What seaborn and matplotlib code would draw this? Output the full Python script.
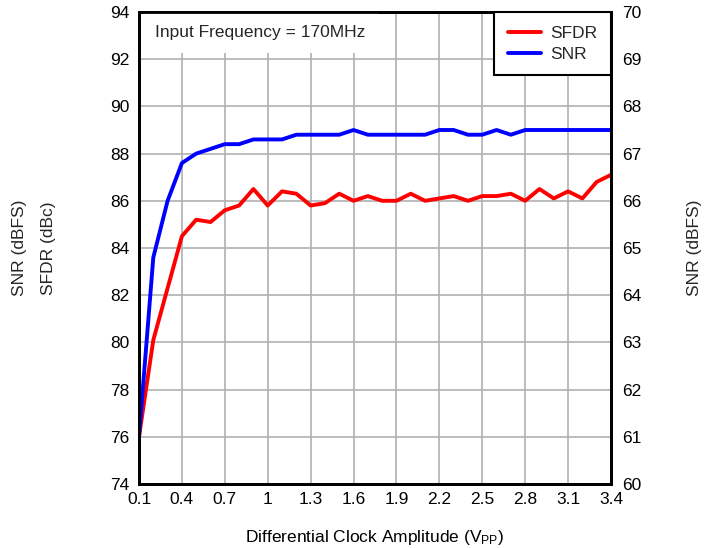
import matplotlib
matplotlib.use("Agg")
import matplotlib.pyplot as plt
import seaborn as sns
import numpy as np
import pandas as pd

# ---- data ----
amplitude = [0.1, 0.2, 0.3, 0.4, 0.5, 0.6, 0.7, 0.8, 0.9, 1.0,
             1.1, 1.2, 1.3, 1.4, 1.5, 1.6, 1.7, 1.8, 1.9, 2.0,
             2.1, 2.2, 2.3, 2.4, 2.5, 2.6, 2.7, 2.8, 2.9, 3.0,
             3.1, 3.2, 3.3, 3.4]
sfdr_dbc = [76.0, 80.1, 82.3, 84.5, 85.2, 85.1, 85.6, 85.8, 86.5, 85.8,
            86.4, 86.3, 85.8, 85.9, 86.3, 86.0, 86.2, 86.0, 86.0, 86.3,
            86.0, 86.1, 86.2, 86.0, 86.2, 86.2, 86.3, 86.0, 86.5, 86.1,
            86.4, 86.1, 86.8, 87.1]
snr_dbfs = [61.0, 64.8, 66.0, 66.8, 67.0, 67.1, 67.2, 67.2, 67.3, 67.3,
            67.3, 67.4, 67.4, 67.4, 67.4, 67.5, 67.4, 67.4, 67.4, 67.4,
            67.4, 67.5, 67.5, 67.4, 67.4, 67.5, 67.4, 67.5, 67.5, 67.5,
            67.5, 67.5, 67.5, 67.5]
x_ticks = [0.1, 0.4, 0.7, 1.0, 1.3, 1.6, 1.9, 2.2, 2.5, 2.8, 3.1, 3.4]
x_tick_labels = ["0.1", "0.4", "0.7", "1", "1.3", "1.6", "1.9", "2.2", "2.5", "2.8", "3.1", "3.4"]
left_ticks = [74, 76, 78, 80, 82, 84, 86, 88, 90, 92, 94]
right_ticks = [60, 61, 62, 63, 64, 65, 66, 67, 68, 69, 70]
series_names = ["SFDR", "SNR"]
annotation = "Input Frequency = 170MHz"

df = pd.DataFrame({"amp": amplitude, "sfdr": sfdr_dbc, "snr": snr_dbfs})

sns.set_theme(style="white")
plt.rcParams["font.family"] = ["Liberation Sans", "DejaVu Sans"]
plt.rcParams["mathtext.fontset"] = "custom"
plt.rcParams["mathtext.rm"] = "Liberation Sans"
plt.rcParams["mathtext.it"] = "Liberation Sans:italic"
plt.rcParams["mathtext.bf"] = "Liberation Sans:bold"

W, H = 716, 548
fig = plt.figure(figsize=(W / 100, H / 100), dpi=100)
fig.patch.set_facecolor("white")
ax = fig.add_axes([139 / W, 1 - 484 / H, (611 - 139) / W, (484 - 12) / H])
ax2 = ax.twinx()

fs = 12.5
lw = 2.8
sns.lineplot(data=df, x="amp", y="sfdr", ax=ax, color="#ff0000", linewidth=lw, label=series_names[0], legend=False)
sns.lineplot(data=df, x="amp", y="snr", ax=ax2, color="#0000ff", linewidth=lw, label=series_names[1], legend=False)

ax.set_xlim(0.1, 3.4)
ax.set_ylim(74, 94)
ax2.set_ylim(60, 70)
ax.set_xticks(x_ticks)
ax.set_xticklabels(x_tick_labels)
ax.set_yticks(left_ticks)
ax.set_yticklabels([str(t) for t in left_ticks])
ax2.set_yticks(right_ticks)
ax2.set_yticklabels([str(t) for t in right_ticks])

ax.grid(True, color="#b0b0b0", linewidth=1.2)
ax.set_axisbelow(True)
ax2.grid(False)

ax.tick_params(axis="both", length=0, labelsize=fs, colors="black", pad=7)
ax.tick_params(axis="x", pad=6)
ax2.tick_params(axis="y", length=0, labelsize=fs, colors="black", pad=8)

for a in (ax, ax2):
    for s in a.spines.values():
        s.set_color("black")
        s.set_linewidth(2.0)
        s.set_visible(True)

ax.set_xlabel("Differential Clock Amplitude (V$_{\\mathrm{PP}}$)", fontsize=fs, color="black", labelpad=15)
ax.set_ylabel("")
ax2.set_ylabel("")
fig.text(20 / W, 1 - 248 / H, "SNR (dBFS)", rotation=90, ha="center", va="center", fontsize=fs)
fig.text(48 / W, 1 - 248 / H, "SFDR (dBc)", rotation=90, ha="center", va="center", fontsize=fs)
fig.text(695 / W, 1 - 248 / H, "SNR (dBFS)", rotation=90, ha="center", va="center", fontsize=fs)

ax.text(155 / W, 1 - 33 / H, annotation, transform=fig.transFigure, ha="left", va="center",
        fontsize=fs, zorder=3,
        bbox=dict(facecolor="white", edgecolor="none", pad=9))

h1, l1 = ax.get_legend_handles_labels()
h2, l2 = ax2.get_legend_handles_labels()
leg = ax2.legend(h1 + h2, l1 + l2, loc="upper right", bbox_to_anchor=(1, 1), borderaxespad=0,
                 fancybox=False, framealpha=1, edgecolor="black", fontsize=fs,
                 handlelength=1.9, handletextpad=0.55, labelspacing=0.35,
                 borderpad=0.78)
leg.get_frame().set_linewidth(1.5)

fig.savefig("out.png", dpi=100, facecolor="white")
